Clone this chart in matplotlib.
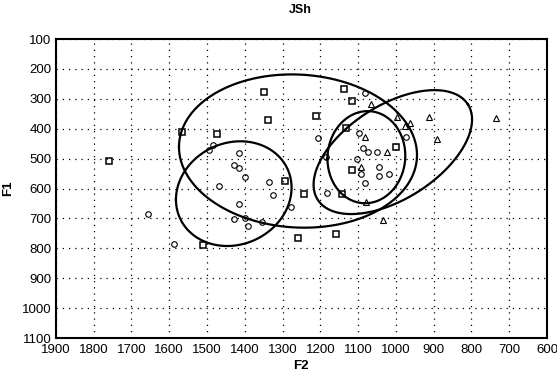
import numpy as np
import matplotlib
matplotlib.use("Agg")
import matplotlib.pyplot as plt

plt.rcParams['font.family'] = ['Liberation Sans', 'DejaVu Sans']

# ---- data ----
square_f2 = [1758, 1565, 1473, 1350, 1338, 1293, 1137, 1116, 1212, 1132, 1000, 1115, 1243, 1142, 1159, 1258, 1510]
square_f1 = [508, 412, 419, 277, 372, 574, 268, 307, 358, 397, 460, 538, 619, 619, 753, 767, 790]

circle_f2 = [1484, 1495, 1415, 1428, 1415, 1400, 1467, 1336, 1324, 1415, 1428, 1398, 1391, 1354, 1278, 1183,
             1657, 1587, 1206, 1082, 1097, 1087, 1073, 1049, 1102, 1045, 1093, 1045, 1018, 1082, 974, 1186]
circle_f1 = [455, 471, 482, 521, 530, 562, 593, 577, 622, 653, 702, 698, 725, 711, 662, 614,
             684, 785, 432, 280, 415, 465, 477, 479, 502, 529, 552, 559, 552, 583, 429, 494]

triangle_f2 = [1067, 998, 975, 963, 912, 735, 892, 1082, 1023, 1091, 1078, 1034]
triangle_f1 = [317, 362, 390, 380, 362, 365, 434, 428, 479, 527, 644, 705]

# ellipses: F2 = c2 + a2*cos t + b2*sin t ; F1 = c1 + a1*cos t + b1*sin t
ell_c2 = [1259, 1429, 1078, 1008]
ell_c1 = [474.5, 617, 495, 478]
ell_a2 = [315, 153, 103, -198.9]
ell_b2 = [0, 0, 0, -66.5]
ell_a1 = [-13.5, 20, 5, -159.2]
ell_b1 = [256, 174, 154, 132.8]

xticks = [1900, 1800, 1700, 1600, 1500, 1400, 1300, 1200, 1100, 1000, 900, 800, 700, 600]
yticks = [100, 200, 300, 400, 500, 600, 700, 800, 900, 1000, 1100]

# ---- figure ----
fig = plt.figure(figsize=(5.57, 3.76), dpi=100)
ax = fig.add_axes([0.1002, 0.101, 0.8818, 0.795])

t = np.linspace(0, 2 * np.pi, 400)
for c2, c1, a2, b2, a1, b1 in zip(ell_c2, ell_c1, ell_a2, ell_b2, ell_a1, ell_b1):
    ax.plot(c2 + a2 * np.cos(t) + b2 * np.sin(t), c1 + a1 * np.cos(t) + b1 * np.sin(t),
            color='black', lw=1.6, zorder=3)

ax.plot(square_f2, square_f1, ls='none', marker='s', ms=4.6, mfc='none', mec='black', mew=1.1, zorder=4)
ax.plot(circle_f2, circle_f1, ls='none', marker='o', ms=4.0, mfc='none', mec='black', mew=0.8, zorder=4)
ax.plot(triangle_f2, triangle_f1, ls='none', marker='^', ms=4.2, mfc='none', mec='black', mew=0.8, zorder=4)

ax.set_xlim(1900, 600)
ax.set_ylim(1100, 100)
ax.set_xticks(xticks)
ax.set_yticks(yticks)
ax.tick_params(axis='x', length=0, labelsize=9.5, pad=4)
ax.tick_params(axis='y', length=0, labelsize=9.5, pad=3)
ax.grid(True, color='black', lw=0.9, linestyle=(0, (1, 4)))
for sp in ax.spines.values():
    sp.set_linewidth(1.5)

fig.text(0.540, 1 - 10 / 376, 'JSh', fontsize=9, fontweight='bold', ha='center', va='center')
fig.text(0.540, 1 - 366 / 376, 'F2', fontsize=9.5, fontweight='bold', ha='center', va='center')
fig.text(8 / 557, 1 - 188 / 376, 'F1', fontsize=9.5, fontweight='bold', ha='center', va='center', rotation=90)

fig.savefig('out.png', dpi=100)
